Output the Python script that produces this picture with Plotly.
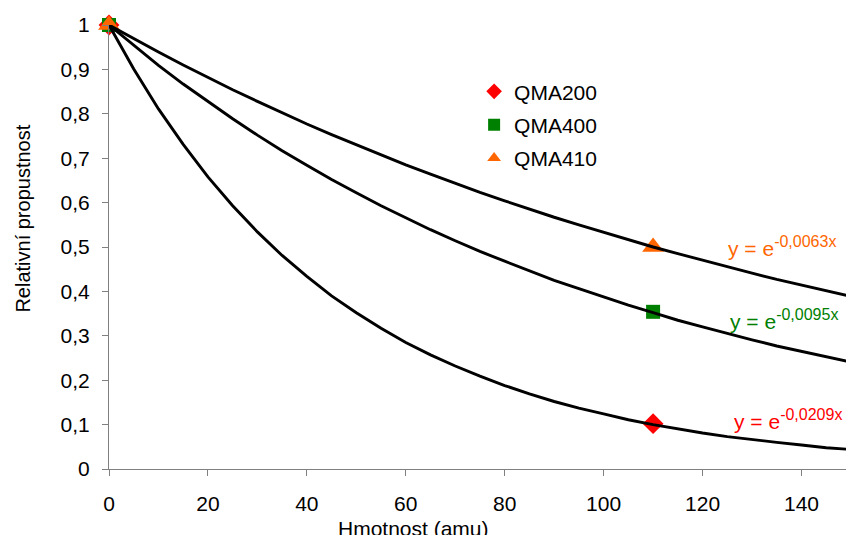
import plotly.graph_objects as go

# Measured points (Hmotnost [amu], relative transmission)
series_names = ["QMA200", "QMA400", "QMA410"]
mass_points = [0, 110]
qma200_y = [1.0, 0.102]
qma400_y = [1.0, 0.354]
qma410_y = [1.0, 0.500]

# Exponential trendline values
curve_x = [0, 5, 10, 15, 20, 25, 30, 35, 40, 45, 50, 55, 60, 65, 70, 75,
           80, 85, 90, 95, 100, 105, 110, 115, 120, 125, 130, 135, 140, 145, 150]
curve_200 = [1.0, 0.901, 0.811, 0.731, 0.658, 0.593, 0.534, 0.481, 0.434, 0.390,
             0.352, 0.317, 0.285, 0.257, 0.232, 0.209, 0.188, 0.169, 0.152, 0.137,
             0.124, 0.111, 0.100, 0.090, 0.081, 0.073, 0.066, 0.060, 0.054, 0.048, 0.044]
curve_400 = [1.0, 0.954, 0.909, 0.867, 0.827, 0.789, 0.752, 0.717, 0.684, 0.652,
             0.622, 0.593, 0.566, 0.539, 0.514, 0.490, 0.468, 0.446, 0.425, 0.406,
             0.387, 0.369, 0.352, 0.335, 0.320, 0.305, 0.291, 0.277, 0.265, 0.252, 0.241]
curve_410 = [1.0, 0.969, 0.939, 0.910, 0.882, 0.854, 0.828, 0.802, 0.777, 0.753,
             0.730, 0.707, 0.685, 0.664, 0.643, 0.623, 0.604, 0.585, 0.567, 0.550,
             0.533, 0.516, 0.500, 0.485, 0.470, 0.455, 0.441, 0.427, 0.414, 0.401, 0.389]

eq_exponents = ["-0,0209x", "-0,0095x", "-0,0063x"]

colors = ["#ff0000", "#008000", "#ff6600"]
symbols = ["diamond", "square", "triangle-up"]
sizes = [16, 14, 19]
point_sets = [qma200_y, qma400_y, qma410_y]
curves = [curve_200, curve_400, curve_410]

FONT = "Liberation Sans, Arial, sans-serif"
fig = go.Figure()

for i, name in enumerate(series_names):
    fig.add_trace(go.Scatter(
        x=mass_points, y=point_sets[i], mode="markers", name=name,
        legendgroup=name,
        marker=dict(symbol=symbols[i], color=colors[i], size=sizes[i], line=dict(width=0)),
        cliponaxis=False,
    ))

for i, c in enumerate(curves):
    fig.add_trace(go.Scatter(
        x=curve_x, y=c, mode="lines", showlegend=False,
        line=dict(color="black", width=2.9), hoverinfo="skip",
    ))

# equation labels
eq_pos = [(126.0, 0.111), (125.1, 0.336), (124.7, 0.502)]
for i in range(3):
    fig.add_annotation(
        x=eq_pos[i][0], y=eq_pos[i][1], xref="x", yref="y",
        text='y = e<sup><span style="font-size:16px">' + eq_exponents[i] + '</span></sup>',
        showarrow=False, xanchor="left", yanchor="middle",
        font=dict(family=FONT, size=21, color=colors[i]),
    )

axis_common = dict(
    showgrid=False, zeroline=False, showline=True, linecolor="#808080", linewidth=1.2,
    ticks="outside", ticklen=6, tickcolor="#808080", tickwidth=1.2,
    tickfont=dict(family=FONT, size=21, color="black"),
)

fig.update_xaxes(range=[0, 149], tick0=0, dtick=20, ticklabelstandoff=10, **axis_common)
fig.update_yaxes(range=[0, 1], tick0=0, dtick=0.1, ticklabelstandoff=8, **axis_common)

fig.add_annotation(
    x=0.4136, y=-0.135, xref="paper", yref="paper", text="Hmotnost (amu)",
    showarrow=False, xanchor="center", yanchor="middle",
    font=dict(family=FONT, size=21, color="black"),
)
fig.add_annotation(
    x=-0.117, y=0.5634, xref="paper", yref="paper", text="Relativní propustnost",
    showarrow=False, xanchor="center", yanchor="middle", textangle=-90,
    font=dict(family=FONT, size=20, color="black"),
)

fig.update_layout(
    width=846, height=535,
    margin=dict(l=109, r=0, t=25, b=66),
    paper_bgcolor="white", plot_bgcolor="white",
    separators=", ",
    showlegend=True,
    legend=dict(
        x=0.4954, y=0.896, xanchor="left", yanchor="top",
        font=dict(family=FONT, size=21, color="black"),
        itemsizing="constant", tracegroupgap=3,
        bgcolor="rgba(0,0,0,0)",
    ),
)

fig.write_html("out.html", config={"displayModeBar": False},
               post_script="document.body.style.margin='0';")
